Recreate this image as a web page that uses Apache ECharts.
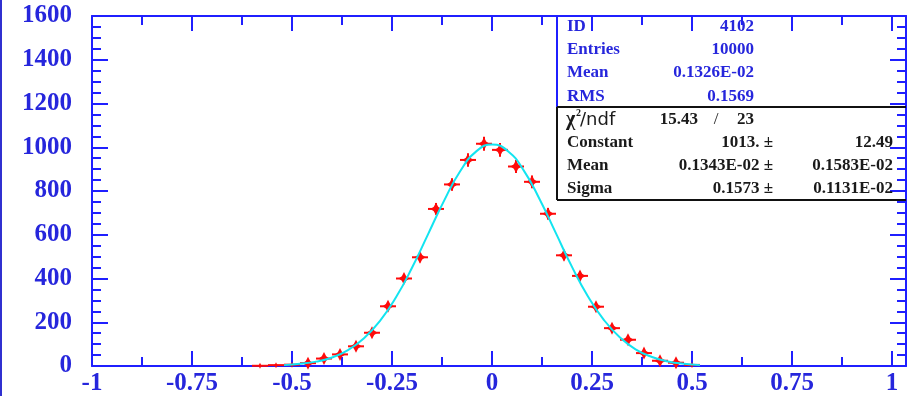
<!DOCTYPE html>
<html><head><meta charset="utf-8">
<script src="https://cdn.jsdelivr.net/npm/echarts@6/dist/echarts.min.js"></script>
<style>html,body{margin:0;padding:0;background:#fff}#c{width:911px;height:396px}</style>
</head><body><div id="c"></div>
<script>
// ---- data ----
const binCenters = [-0.58,-0.54,-0.50,-0.46,-0.42,-0.38,-0.34,-0.30,-0.26,-0.22,-0.18,-0.14,-0.10,-0.06,-0.02,0.02,0.06,0.10,0.14,0.18,0.22,0.26,0.30,0.34,0.38,0.42,0.46,0.50];
const counts     = [1,4,6,13,34,53,90,152,273,400,497,718,830,942,1016,988,912,842,696,506,412,271,173,120,59,24,15,5];
const binHalfWidth = 0.02;
const fitX = [-0.52,-0.48,-0.44,-0.40,-0.36,-0.32,-0.28,-0.24,-0.20,-0.16,-0.12,-0.08,-0.04,0,0.04,0.08,0.12,0.16,0.20,0.24,0.28,0.32,0.36,0.40,0.44,0.48,0.52];
const fitY = [4,10,20,39,73,127,206,314,449,602,755,889,980,1013,982,892,759,606,453,318,210,130,75,41,21,10,4];
const xMajorTicks = [-1,-0.75,-0.5,-0.25,0,0.25,0.5,0.75,1];
const xMinorTicks = [-0.875,-0.625,-0.375,-0.125,0.125,0.375,0.625,0.875];
const statsTop = [["ID","4102"],["Entries","10000"],["Mean","0.1326E-02"],["RMS","0.1569"]];
const chi2 = ["15.43","23"];
const fitParams = [["Constant","1013.","12.49"],["Mean","0.1343E-02","0.1583E-02"],["Sigma","0.1573","0.1131E-02"]];

// ---- style ----
const BLUE='#1f1fff', LBL='#2626dc', RED='#ff0a0a', CYAN='#12e4f0';
const XMIN=-1, XMAX=1.035;
const SERIF='"Liberation Serif","Times New Roman",serif';
function xAx(pos, vals, len, line, label){
  return {type:'value', position:pos, min:XMIN, max:XMAX,
    axisLine:{show:line, onZero:false, lineStyle:{color:BLUE,width:2}},
    axisTick:{show:true, inside:true, length:len, customValues:vals, lineStyle:{color:BLUE,width:2}},
    axisLabel:label?{show:true, customValues:vals, margin:5, color:LBL, fontFamily:SERIF, fontWeight:'bold', fontSize:25,
      formatter:v=>String(v)}:{show:false},
    splitLine:{show:false}};
}
function yAx(pos, label){
  return {type:'value', position:pos, min:0, max:1600, interval:200,
    axisLine:{show:true, onZero:false, lineStyle:{color:BLUE,width:2}},
    axisTick:{show:true, inside:true, length:16, lineStyle:{color:BLUE,width:2}},
    minorTick:{show:true, splitNumber:4, length:9, lineStyle:{color:BLUE,width:2}},
    axisLabel:label?{show:true, margin:20, color:LBL, fontFamily:SERIF, fontWeight:'bold', fontSize:25,
      formatter:v=>String(v)}:{show:false},
    splitLine:{show:false}};
}

const chart = echarts.init(document.getElementById('c'), null, {renderer:'canvas'});
const g = [];
// left border of the picture
g.push({type:'line', shape:{x1:1,y1:0,x2:1,y2:396}, style:{stroke:'#3030d0',lineWidth:2}, z:10});
// stats box
const bx0=557, bx1=906, by0=16, byMid=107, by1=200;
g.push({type:'line', shape:{x1:bx0,y1:by0,x2:bx0,y2:byMid}, style:{stroke:BLUE,lineWidth:2}, z:5});
g.push({type:'line', shape:{x1:bx0,y1:byMid,x2:bx1,y2:byMid}, style:{stroke:'#111',lineWidth:2}, z:5});
g.push({type:'line', shape:{x1:bx0,y1:byMid,x2:bx0,y2:by1}, style:{stroke:'#111',lineWidth:2}, z:5});
g.push({type:'line', shape:{x1:bx0,y1:by1,x2:bx1,y2:by1}, style:{stroke:'#111',lineWidth:2}, z:5});
const topRows=[27,50,73,97];
statsTop.forEach((r,i)=>{
  g.push({type:'text', z:6, style:{text:r[0], x:567, y:topRows[i], fill:LBL, font:'bold 17px '+SERIF, align:'left', verticalAlign:'middle'}});
  g.push({type:'text', z:6, style:{text:r[1], x:754, y:topRows[i], fill:LBL, font:'bold 17px '+SERIF, align:'right', verticalAlign:'middle'}});
});
const DARK='#1a1a1a';
g.push({type:'text', z:6, style:{text:'χ', x:566, y:120, fill:DARK, font:'bold 20px '+SERIF, align:'left', verticalAlign:'middle'}});
g.push({type:'text', z:6, style:{text:'2', x:576, y:113, fill:DARK, font:'bold 10px '+SERIF, align:'left', verticalAlign:'middle'}});
g.push({type:'text', z:6, style:{text:'/ndf', x:580, y:120, fill:DARK, font:'18px "DejaVu Sans",sans-serif', align:'left', verticalAlign:'middle'}});
g.push({type:'text', z:6, style:{text:chi2[0], x:698, y:120, fill:DARK, font:'bold 17px '+SERIF, align:'right', verticalAlign:'middle'}});
g.push({type:'text', z:6, style:{text:'/', x:716, y:120, fill:DARK, font:'17px '+SERIF, align:'center', verticalAlign:'middle'}});
g.push({type:'text', z:6, style:{text:chi2[1], x:754, y:120, fill:DARK, font:'bold 17px '+SERIF, align:'right', verticalAlign:'middle'}});
const botRows=[143,166,189];
fitParams.forEach((r,i)=>{
  g.push({type:'text', z:6, style:{text:r[0], x:567, y:botRows[i], fill:DARK, font:'bold 17px '+SERIF, align:'left', verticalAlign:'middle'}});
  g.push({type:'text', z:6, style:{text:r[1]+' ±', x:773, y:botRows[i], fill:DARK, font:'bold 17px '+SERIF, align:'right', verticalAlign:'middle'}});
  g.push({type:'text', z:6, style:{text:r[2], x:893, y:botRows[i], fill:DARK, font:'bold 17px '+SERIF, align:'right', verticalAlign:'middle'}});
});

chart.setOption({
  animation:false,
  backgroundColor:'#ffffff',
  grid:{left:92, right:5, top:16, bottom:28, containLabel:false},
  xAxis:[xAx('bottom', xMajorTicks, 15, true, true), xAx('bottom', xMinorTicks, 9, false, false),
         xAx('top', xMajorTicks, 15, true, false), xAx('top', xMinorTicks, 9, false, false)],
  yAxis:[yAx('left', true), yAx('right', false)],
  series:[
    {type:'custom', xAxisIndex:0, yAxisIndex:0, z:3,
     data: binCenters.map((x,i)=>[x,counts[i]]),
     renderItem:(params, api)=>{
       const x=api.value(0), y=api.value(1), e=Math.sqrt(y);
       const c=api.coord([x,y]), l=api.coord([x-binHalfWidth,y]), r=api.coord([x+binHalfWidth,y]);
       const t=api.coord([x,y+e]), b=api.coord([x,Math.max(0,y-e)]);
       const s=y<10?2:5.5, w=y<10?1:2.2, cx=c[0], cy=c[1];
       return {type:'group', children:[
         {type:'line', shape:{x1:l[0],y1:cy,x2:r[0],y2:cy}, style:{stroke:RED,lineWidth:2}},
         {type:'line', shape:{x1:cx,y1:t[1],x2:cx,y2:b[1]}, style:{stroke:RED,lineWidth:2}},
         {type:'polygon', shape:{points:[[cx,cy-s-1],[cx+w,cy-w],[cx+s,cy],[cx+w,cy+w],[cx,cy+s+1],[cx-w,cy+w],[cx-s,cy],[cx-w,cy-w]]}, style:{fill:RED}}
       ]};
     }},
    {type:'line', xAxisIndex:0, yAxisIndex:0, z:4, smooth:true, showSymbol:false, symbol:'none',
     data: fitX.map((x,i)=>[x,fitY[i]]), lineStyle:{color:CYAN,width:2}}
  ],
  graphic:g
});
</script></body></html>
